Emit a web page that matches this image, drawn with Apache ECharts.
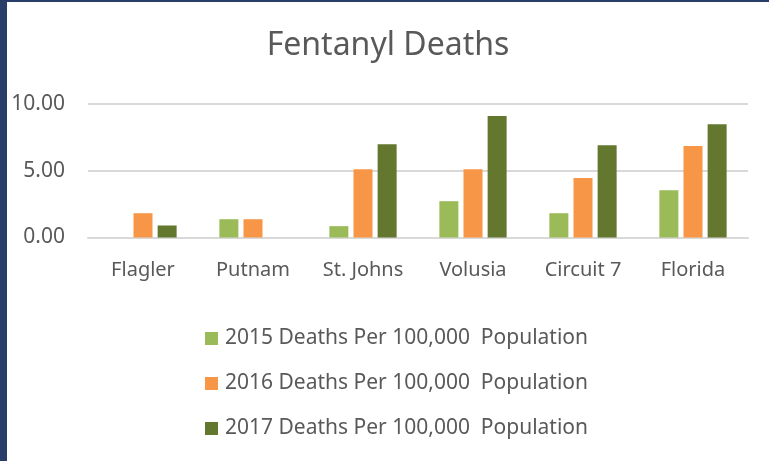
<!DOCTYPE html>
<html>
<head>
<meta charset="utf-8">
<script src="https://cdn.jsdelivr.net/npm/echarts@6/dist/echarts.min.js"></script>
<style>
  html, body { margin: 0; padding: 0; width: 769px; height: 461px; background: #283e69; overflow: hidden; }
  #chart { position: absolute; left: 7px; top: 2px; width: 762px; height: 459px; background: #fff; }
</style>
</head>
<body>
<div id="chart"></div>
<script>
const categories = ['Flagler', 'Putnam', 'St. Johns', 'Volusia', 'Circuit 7', 'Florida']
const deaths2015 = [0, 1.37, 0.85, 2.72, 1.82, 3.54]
const deaths2016 = [1.82, 1.37, 5.11, 5.11, 4.46, 6.86]
const deaths2017 = [0.9, 0, 6.98, 9.1, 6.91, 8.48]
const seriesNames = [
  '2015 Deaths Per 100,000  Population',
  '2016 Deaths Per 100,000  Population',
  '2017 Deaths Per 100,000  Population'
]
const colors = ['#9bbb59', '#f79646', '#63772f']

const chart = echarts.init(document.getElementById('chart'))
const font = '"Noto Sans", sans-serif'

const option = {
  animation: false,
  title: {
    text: 'Fentanyl Deaths',
    left: 'center',
    top: 23,
    textStyle: { fontFamily: font, fontSize: 32, fontWeight: 'normal', color: '#595959' }
  },
  legend: {
    orient: 'vertical',
    left: 193,
    top: 321,
    itemWidth: 13,
    itemHeight: 13,
    itemGap: 24,
    icon: 'rect',
    textStyle: { fontFamily: font, fontSize: 21, color: '#595959', padding: [0, 0, 0, 2] },
    data: seriesNames
  },
  grid: { left: 81, right: 21, top: 102, height: 133.5 },
  xAxis: {
    type: 'category',
    data: categories,
    axisLine: { lineStyle: { color: '#d9d9d9', width: 2 } },
    axisTick: { show: false },
    axisLabel: { fontFamily: font, fontSize: 20, color: '#595959', margin: 23 }
  },
  yAxis: {
    type: 'value',
    min: 0,
    max: 10,
    interval: 5,
    splitLine: { lineStyle: { color: '#d9d9d9', width: 2 } },
    axisLabel: {
      fontFamily: font, fontSize: 21, color: '#595959', margin: 23,
      formatter: v => v.toFixed(2)
    }
  },
  series: [deaths2015, deaths2016, deaths2017].map((d, i) => ({
    name: seriesNames[i],
    type: 'bar',
    data: d,
    barWidth: 19,
    barGap: '27%',
    itemStyle: { color: colors[i] }
  }))
}
chart.setOption(option)
</script>
</body>
</html>
